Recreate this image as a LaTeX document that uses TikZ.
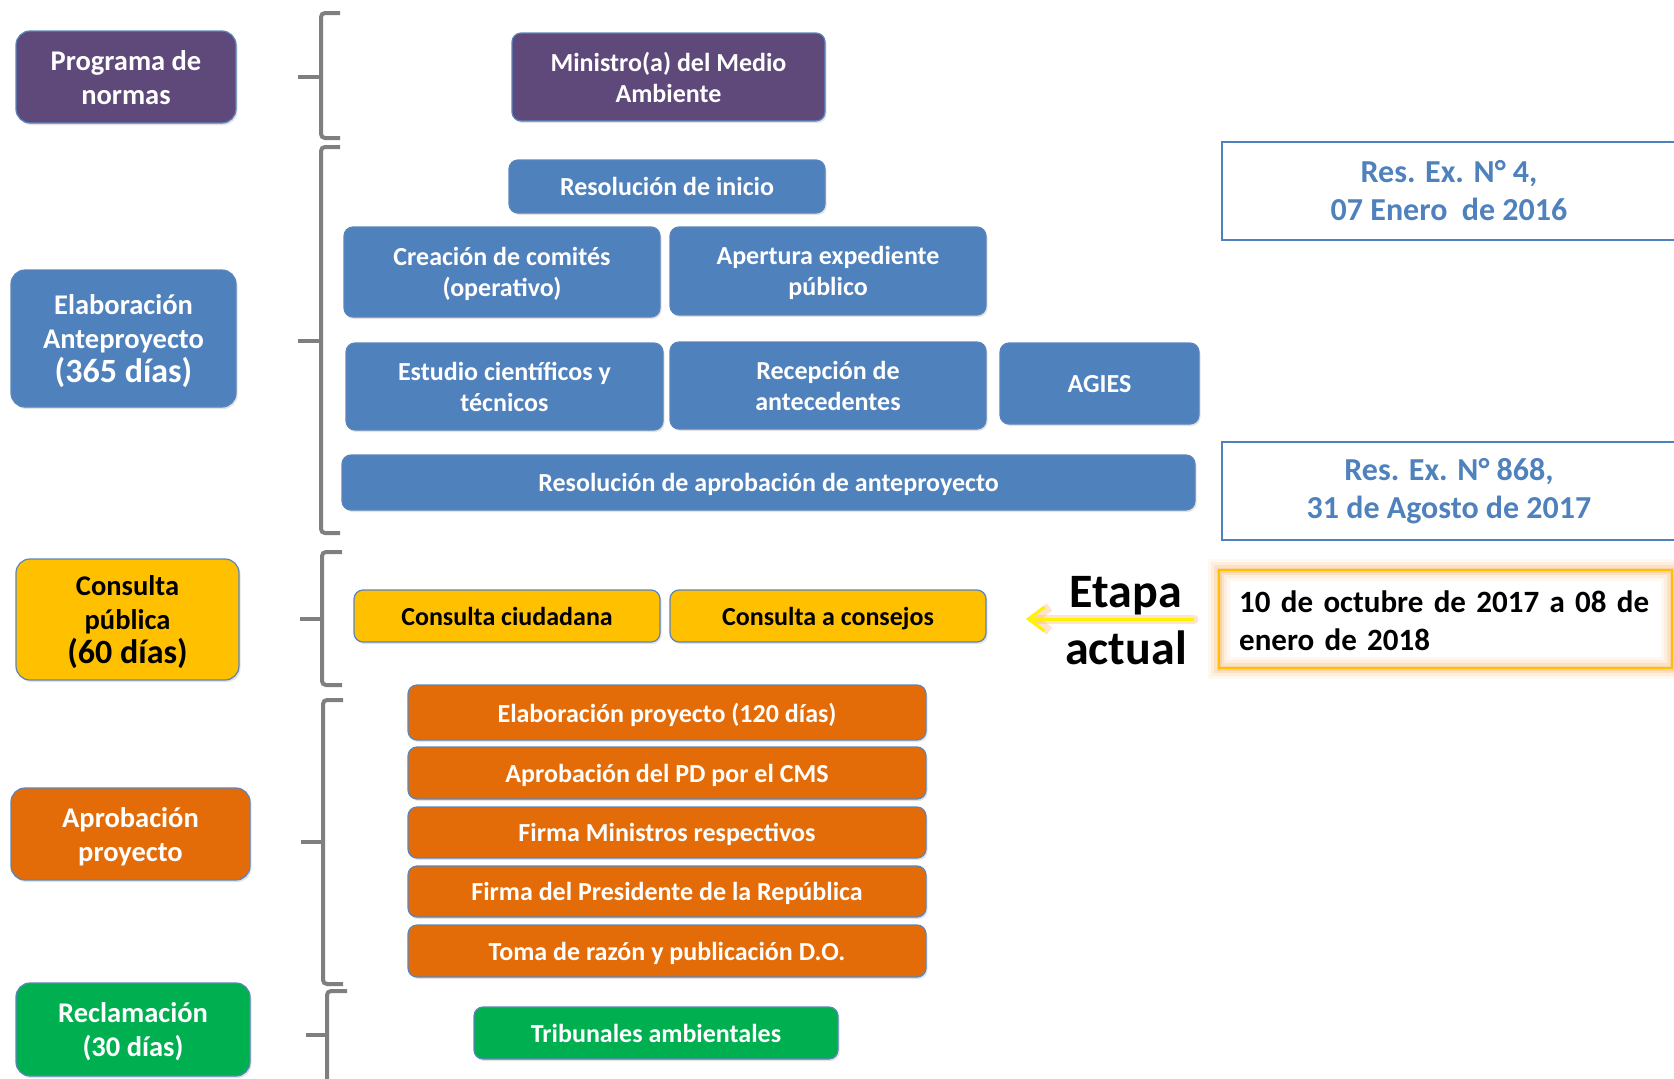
\documentclass[tikz,border=0pt]{standalone}
\usepackage{fontspec}
\setmainfont{Carlito}
\usetikzlibrary{arrows.meta,shadows}
\definecolor{cpurple}{HTML}{5F497A}
\definecolor{cblue}{HTML}{4F81BD}
\definecolor{cyellow}{HTML}{FFC000}
\definecolor{corange}{HTML}{E36C09}
\definecolor{cgreen}{HTML}{00B050}
\definecolor{cborder}{HTML}{5A85BC}
\definecolor{cgray}{HTML}{7F7F7F}
\definecolor{cglow}{HTML}{F8A650}
\tikzset{
  box/.style={rectangle, rounded corners=9pt, draw=cborder, line width=1.2pt,
    inner sep=2pt, outer sep=0pt, align=center, text=white, text depth=0pt,
    font=\bfseries\fontsize{26}{31}\selectfont,
    drop shadow={opacity=0.22, shadow xshift=1.5pt, shadow yshift=-2pt}},
  stage/.style={box, rounded corners=14pt, font=\bfseries\fontsize{28.5}{34}\selectfont},
  purplebox/.style={fill=cpurple},
  bluebox/.style={fill=cblue},
  yellowbox/.style={fill=cyellow, text=black},
  orangebox/.style={fill=corange},
  greenbox/.style={fill=cgreen},
  resbox/.style={rectangle, draw=cblue, line width=2pt, text=cblue, align=center,
    font=\bfseries\fontsize{32}{38}\selectfont, minimum width=454pt, minimum height=98pt},
  brk/.style={draw=cgray, line width=4pt, rounded corners=4pt}
}
\begin{document}
\begin{tikzpicture}[x=1pt,y=-1pt]
\useasboundingbox (0,0) rectangle (1674,1079);
\clip (0,0) rectangle (1674,1079);

% braces
\draw[brk] (340,13) -- (321,13) -- (321,138) -- (340,138);
\draw[brk] (298,77) -- (321,77);
\draw[brk] (340,147) -- (321,147) -- (321,533) -- (340,533);
\draw[brk] (298,341) -- (321,341);
\draw[brk] (342,552) -- (322,552) -- (322,685) -- (342,685);
\draw[brk] (300,619) -- (322,619);
\draw[brk] (343,700) -- (323,700) -- (323,984) -- (343,984);
\draw[brk] (301,842) -- (323,842);
\draw[brk] (347,991) -- (327,991) -- (327,1090);
\draw[brk] (306,1035) -- (327,1035);

% left stage labels
\node[stage,purplebox,minimum width=220pt,minimum height=92pt] (prog) at (126,77) {Programa de\\normas};
\node[stage,bluebox,minimum width=225pt,minimum height=137pt] (elab) at (123.5,338.5) {Elaboración\\Anteproyecto\\{\fontsize{34}{38}\selectfont (365 días)}};
\node[stage,yellowbox,minimum width=223pt,minimum height=121pt] (cpub) at (127.5,619.5) {Consulta\\pública\\{\fontsize{34}{38}\selectfont (60 días)}};
\node[stage,orangebox,minimum width=239pt,minimum height=92pt] (aprp) at (130.5,834) {Aprobación\\proyecto};
\node[stage,greenbox,minimum width=234pt,minimum height=93pt] (recl) at (133,1029.5) {Reclamación\\(30 días)};

% inner boxes
\node[box,purplebox,minimum width=313pt,minimum height=88pt] (mini) at (668.5,77) {Ministro(a) del Medio\\Ambiente};
\node[box,bluebox,minimum width=316pt,minimum height=53pt] (resini) at (667,186.5) {Resolución de inicio};
\node[box,bluebox,minimum width=316pt,minimum height=90pt] (crea) at (502,272) {Creación de comités\\(operativo)};
\node[box,bluebox,minimum width=316pt,minimum height=88pt] (aper) at (828,271) {Apertura expediente\\público};
\node[box,bluebox,minimum width=317pt,minimum height=87pt] (estu) at (504.5,386.5) {Estudio científicos y\\técnicos};
\node[box,bluebox,minimum width=316pt,minimum height=87pt] (rece) at (828,385.5) {Recepción de\\antecedentes};
\node[box,bluebox,minimum width=199pt,minimum height=81pt] (agies) at (1099.5,383.5) {AGIES};
\node[box,bluebox,minimum width=853pt,minimum height=55pt] (resapr) at (768.5,482.5) {Resolución de aprobación de anteproyecto};

\node[box,yellowbox,minimum width=306pt,minimum height=52pt] (cciu) at (507,616) {Consulta ciudadana};
\node[box,yellowbox,minimum width=316pt,minimum height=52pt] (ccon) at (828,616) {Consulta a consejos};

\node[box,orangebox,minimum width=518pt,minimum height=55pt] (o1) at (667,712.5) {Elaboración proyecto (120 días)};
\node[box,orangebox,minimum width=518pt,minimum height=52pt] (o2) at (667,773) {Aprobación del PD por el CMS};
\node[box,orangebox,minimum width=518pt,minimum height=51pt] (o3) at (667,832.5) {Firma Ministros respectivos};
\node[box,orangebox,minimum width=518pt,minimum height=51pt] (o4) at (667,891.5) {Firma del Presidente de la República};
\node[box,orangebox,minimum width=518pt,minimum height=52pt] (o5) at (667,951) {Toma de razón y publicación D.O.};

\node[box,greenbox,minimum width=364pt,minimum height=52pt] (trib) at (656,1033) {Tribunales ambientales};

% resolution notes
\node[resbox] (resA) at (1449,191) {Res. Ex. N° 4,\\07 Enero\ \ de 2016};
\node[resbox] (resB) at (1449,491) {Res. Ex. N° 868,\\31 de Agosto de 2017};

% current stage
\foreach \w/\o in {22/0.08,16/0.12,10/0.18,5/0.25}
  \draw[draw=cglow, line width=\w pt, opacity=\o] (1219,570) rectangle (1672,668);
\node[rectangle, draw=cyellow, line width=2pt, minimum width=453pt, minimum height=98pt] (date) at (1445.5,619) {};
\node[anchor=west, inner sep=0pt, text width=432pt, align=left,
  font=\bfseries\fontsize{31}{38}\selectfont] (datetext) at (1239,621)
  {10 de octubre de 2017 a 08 de\\enero de 2018};

\node[anchor=base, font=\bfseries\fontsize{48}{52}\selectfont] (etapa) at (1126,607) {Etapa};
\node[anchor=base, font=\bfseries\fontsize{48}{52}\selectfont] (actual) at (1126,664) {actual};

\draw[draw=cglow, opacity=0.3, line width=9pt, line cap=round, shorten <=24pt, shorten >=40pt,
  -{Straight Barb[length=16pt,width=24pt]}] (date.west) -- (date.west -| ccon.east);
\draw[draw=yellow, line width=3pt, shorten <=24pt, shorten >=40pt,
  -{Straight Barb[length=16pt,width=24pt]}] (date.west) -- (date.west -| ccon.east);
\end{tikzpicture}
\end{document}
